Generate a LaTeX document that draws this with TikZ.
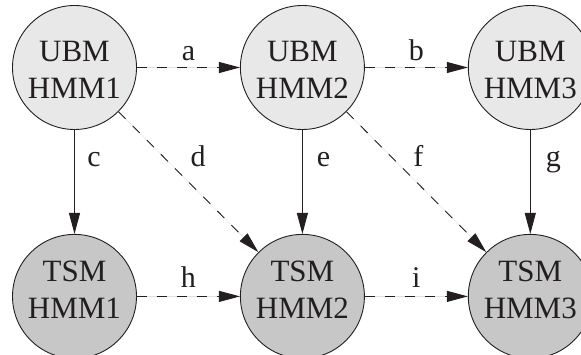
\documentclass[tikz,border=0pt]{standalone}
\usepackage{fontspec}
\setmainfont{Liberation Serif}
\usetikzlibrary{arrows.meta,positioning}
\definecolor{ink}{HTML}{231F20}
\tikzset{ubm node/.style={circle,fill=black!9,draw=ink,text=ink,line width=0.9pt,minimum size=124pt,inner sep=0pt,
                          align=center,font=\fontsize{31}{37}\selectfont,text height=61.6pt,text depth=0pt},
         tsm node/.style={ubm node,fill=black!22,text height=44pt},
         edge label/.style={font=\fontsize{30}{36}\selectfont,text=ink,inner sep=0pt,anchor=base west},
         flow/.style={->,draw=ink,line width=0.9pt},
         dflow/.style={flow,dash pattern=on 10pt off 10pt,preaction={draw=black!12,solid,-}}
}
\begin{document}
\begin{tikzpicture}[>={Triangle[length=21pt,width=11pt]},
node distance=104pt and 103pt]
\useasboundingbox (-74.5pt,67.5pt) rectangle (506.5pt,-287.5pt);
% upper row
\node[ubm node] (u1) {UBM\\HMM1};
\node[ubm node, right=of u1] (u2) {UBM\\HMM2};
\node[ubm node, right=of u2] (u3) {UBM\\HMM3};
% lower row
\node[tsm node, below=of u1] (t1) {TSM\\HMM1};
\node[tsm node, below=of u2] (t2) {TSM\\HMM2};
\node[tsm node, below=of u3] (t3) {TSM\\HMM3};

\draw[dflow] (u1) -- node[edge label, anchor=base, yshift=6.6pt] (la) {a} (u2);
\draw[dflow] (u2) -- node[edge label, anchor=base, yshift=6.6pt] (lb) {b} (u3);
\draw[flow] (u1) -- node[edge label, pos=.35, xshift=12.5pt] (lc) {c} (t1);
\draw[dflow] (u1) -- node[edge label, pos=.39, xshift=17pt] (ld) {d} (t2);
\draw[flow] (u2) -- node[edge label, pos=.35, xshift=14pt] (le) {e} (t2);
\draw[dflow] (u2) -- node[edge label, pos=.39, xshift=12pt] (lf) {f} (t3);
\draw[flow] (u3) -- node[edge label, pos=.35, xshift=15pt] (lg) {g} (t3);
\draw[dflow] (t1) -- node[edge label, anchor=base, yshift=9pt] (lh) {h} (t2);
\draw[dflow] (t2) -- node[edge label, anchor=base, yshift=9pt] (li) {i} (t3);
\end{tikzpicture}
\end{document}
